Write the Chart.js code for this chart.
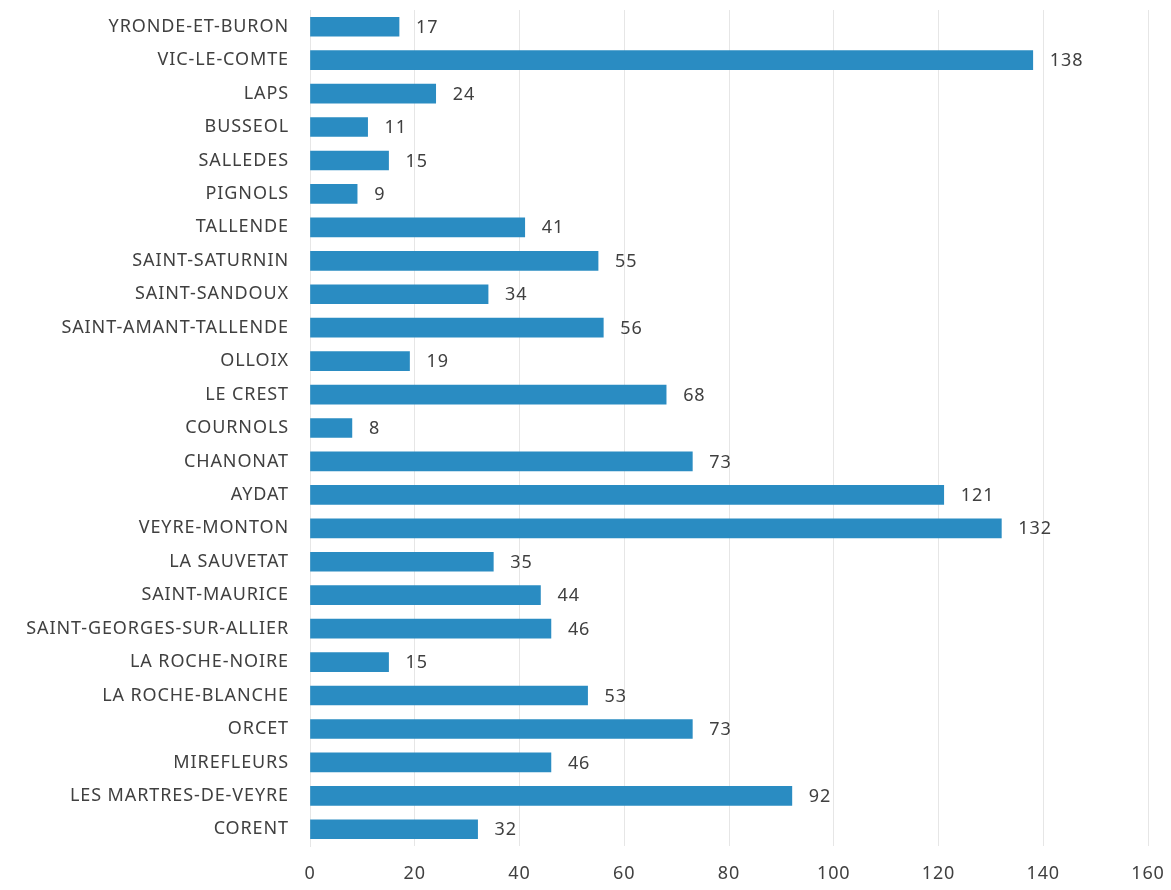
<!DOCTYPE html>
<html>
<head>
<meta charset="utf-8">
<script src="https://cdn.jsdelivr.net/npm/chart.js@4"></script>
<style>
  html, body { margin: 0; padding: 0; background: #fff; }
  #wrap { width: 1171px; height: 890px; position: relative; }
</style>
</head>
<body>
<div id="wrap"><canvas id="communesChart"></canvas></div>
<script>
const communes = [
  'YRONDE-ET-BURON', 'VIC-LE-COMTE', 'LAPS', 'BUSSEOL', 'SALLEDES', 'PIGNOLS',
  'TALLENDE', 'SAINT-SATURNIN', 'SAINT-SANDOUX', 'SAINT-AMANT-TALLENDE', 'OLLOIX',
  'LE CREST', 'COURNOLS', 'CHANONAT', 'AYDAT', 'VEYRE-MONTON', 'LA SAUVETAT',
  'SAINT-MAURICE', 'SAINT-GEORGES-SUR-ALLIER', 'LA ROCHE-NOIRE', 'LA ROCHE-BLANCHE',
  'ORCET', 'MIREFLEURS', 'LES MARTRES-DE-VEYRE', 'CORENT',
];
const counts = [17, 138, 24, 11, 15, 9, 41, 55, 34, 56, 19, 68, 8, 73, 121, 132, 35, 44, 46, 15, 53, 73, 46, 92, 32];
const xTicks = [0, 20, 40, 60, 80, 100, 120, 140, 160];

const font = { family: "'Noto Sans', sans-serif", size: 18 };
const textColor = '#404040';
const spacing = '0.9px';

// scanned Calibri is wider than Noto Sans, open the letters up a little
const letterSpacing = {
  id: 'letterSpacing',
  beforeInit(chart) { chart.ctx.letterSpacing = spacing; },
  beforeDraw(chart) { chart.ctx.letterSpacing = spacing; },
};

// value printed just right of each bar
const valueLabels = {
  id: 'valueLabels',
  afterDatasetsDraw(chart) {
    const { ctx } = chart;
    const meta = chart.getDatasetMeta(0);
    ctx.save();
    ctx.font = `${font.size}px ${font.family}`;
    ctx.fillStyle = textColor;
    ctx.textBaseline = 'middle';
    ctx.textAlign = 'left';
    meta.data.forEach((bar, i) => {
      ctx.fillText(String(counts[i]), bar.x + 17, bar.y + 1);
    });
    ctx.restore();
  },
};

function barFill(context) {
  const { chart } = context;
  const el = chart.getDatasetMeta(0).data[context.dataIndex];
  if (!el || el.y == null || isNaN(el.y)) return '#2a8cc2';
  const h = 9;
  const g = chart.ctx.createLinearGradient(0, el.y - h, 0, el.y + h);
  g.addColorStop(0, '#3aa0d4');
  g.addColorStop(0.5, '#2b90c7');
  g.addColorStop(1, '#1f78aa');
  return g;
}

new Chart(document.getElementById('communesChart'), {
  type: 'bar',
  data: {
    labels: communes,
    datasets: [{
      data: counts,
      backgroundColor: barFill,
      barThickness: 19,
      borderWidth: 0,
    }],
  },
  options: {
    indexAxis: 'y',
    responsive: true, maintainAspectRatio: false,
    animation: false,
    layout: { padding: { top: 10, right: 23, left: 0, bottom: 0 } },
    plugins: { legend: { display: false }, tooltip: { enabled: false } },
    scales: {
      x: {
        min: 0, max: 160,
        afterBuildTicks(axis) { axis.ticks = xTicks.map(v => ({ value: v })); },
        afterFit(axis) { axis.height = 44; axis.paddingRight = 0; axis.paddingLeft = 0; },
        grid: { color: '#e6e6e6', drawTicks: false },
        border: { display: false },
        ticks: { font, color: textColor, padding: 17 },
      },
      y: {
        afterFit(axis) { axis.width = 310; axis.paddingTop = 0; axis.paddingBottom = 0; },
        grid: { display: false },
        border: { display: true, color: '#e6e6e6' },
        ticks: { font, color: textColor, padding: 13, autoSkip: false },
      },
    },
  },
  plugins: [letterSpacing, valueLabels],
});
</script>
</body>
</html>
